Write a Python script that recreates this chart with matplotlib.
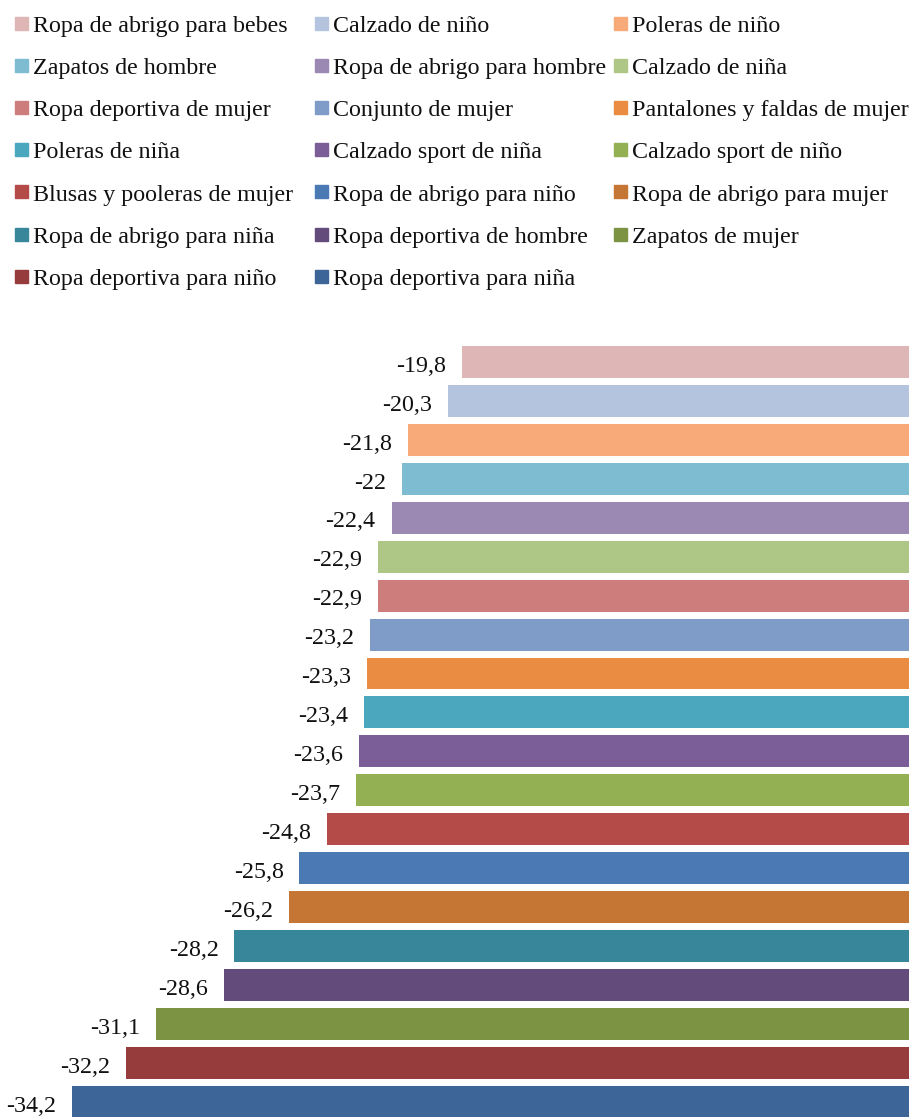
import matplotlib
matplotlib.use("Agg")
import matplotlib.pyplot as plt
from matplotlib.patches import Rectangle

categories = [
    "Ropa de abrigo para bebes", "Calzado de niño", "Poleras de niño",
    "Zapatos de hombre", "Ropa de abrigo para hombre", "Calzado de niña",
    "Ropa deportiva de mujer", "Conjunto de mujer", "Pantalones y faldas de mujer",
    "Poleras de niña", "Calzado sport de niña", "Calzado sport de niño",
    "Blusas y pooleras de mujer", "Ropa de abrigo para niño", "Ropa de abrigo para mujer",
    "Ropa de abrigo para niña", "Ropa deportiva de hombre", "Zapatos de mujer",
    "Ropa deportiva para niño", "Ropa deportiva para niña",
]
values = [-19.8, -20.3, -21.8, -22.0, -22.4, -22.9, -22.9, -23.2, -23.3, -23.4,
          -23.6, -23.7, -24.8, -25.8, -26.2, -28.2, -28.6, -31.1, -32.2, -34.2]
colors = [
    "#DFB6B6", "#B4C3DE", "#F8AA79", "#7EBCD1", "#9B89B4", "#AFC786",
    "#CD7D7C", "#7F9CC9", "#EA8D42", "#4BA7BE", "#7B5E97", "#93B153",
    "#B54B49", "#4A79B3", "#C57534", "#388699", "#634B7B", "#7B9343",
    "#973C3C", "#3E6597",
]

plt.rcParams["font.family"] = ["Liberation Serif", "DejaVu Serif"]
FS = 17.3
TXT = "#111111"

W, H = 909, 1117
fig = plt.figure(figsize=(W / 100, H / 100), dpi=100)

# bar area: lower part of the figure
ax_top_px = 330
ax = fig.add_axes([0, 0, 1, (H - ax_top_px) / H])
pos = list(range(len(values)))
ax.barh(pos, values, height=0.82, color=colors, zorder=2)
ax.set_xlim(-36.86, -3.29)
ax.set_ylim(19.39, -0.822)
ax.axis("off")

for y, v in zip(pos, values):
    txt = f"{v:g}".replace(".", ",")
    ax.annotate(txt, xy=(v, y), xytext=(-11.5, -7), textcoords="offset points",
                ha="right", va="baseline", fontsize=FS, color=TXT)

# legend: three columns, filled row by row
col_x = [15, 315, 614]
sq_y0, base_y0, row_dy = 23, 31.7, 42.2
sq = 13
for i, (name, c) in enumerate(zip(categories, colors)):
    r, k = divmod(i, 3)
    x = col_x[k]
    yc = sq_y0 + r * row_dy
    fig.patches.append(Rectangle((x / W, 1 - (yc + sq / 2) / H), sq / W, sq / H,
                                 transform=fig.transFigure, color=c))
    fig.text((x + sq + 5) / W, 1 - (base_y0 + r * row_dy) / H, name,
             ha="left", va="baseline", fontsize=FS, color=TXT)

fig.savefig("out.png", dpi=100)
